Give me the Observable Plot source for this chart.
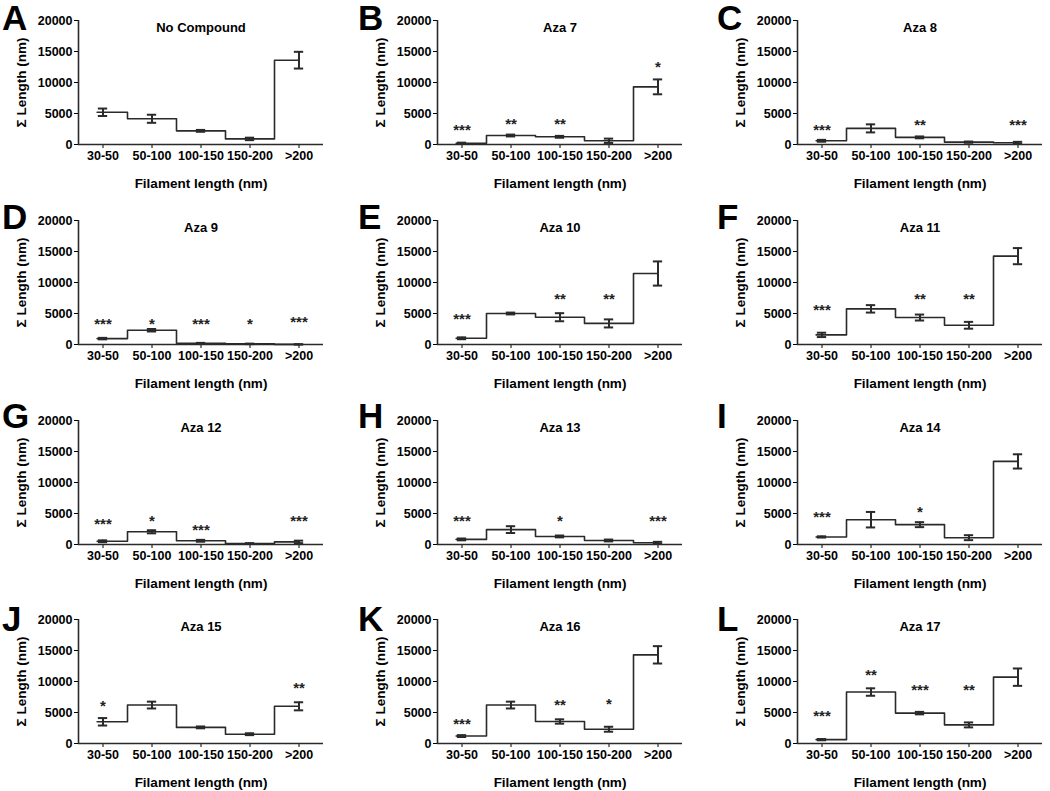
<!DOCTYPE html>
<html><head><meta charset="utf-8">
<script src="https://cdn.jsdelivr.net/npm/d3@7"></script>
<script src="https://cdn.jsdelivr.net/npm/@observablehq/plot@0.6"></script>
<style>
body{margin:0;background:#fff;width:1050px;height:791px;overflow:hidden;position:relative;font-family:"Liberation Sans",Arial,sans-serif;}
.panel{position:absolute;}
.letter{position:absolute;font-weight:bold;font-size:35px;line-height:1;color:#000;font-family:"Liberation Sans",Arial,sans-serif;}
</style></head><body>
<script>
const categories = ["30-50", "50-100", "100-150", "150-200", ">200"];
const panelLetters = ["A","B","C","D","E","F","G","H","I","J","K","L"];
const panelTitles = ["No Compound","Aza 7","Aza 8","Aza 9","Aza 10","Aza 11","Aza 12","Aza 13","Aza 14","Aza 15","Aza 16","Aza 17"];
const means = [
  [5200, 4150, 2200, 900, 13600],
  [200, 1450, 1240, 600, 9300],
  [600, 2600, 1150, 380, 280],
  [950, 2300, 200, 100, 20],
  [1000, 5000, 4400, 3400, 11450],
  [1550, 5750, 4350, 3100, 14250],
  [520, 2050, 600, 160, 420],
  [820, 2400, 1300, 650, 280],
  [1220, 4000, 3200, 1100, 13400],
  [3500, 6200, 2600, 1500, 6000],
  [1200, 6200, 3550, 2300, 14300],
  [620, 8300, 4900, 3000, 10700]
];
const errors = [
  [600, 650, 150, 200, 1350],
  [100, 150, 150, 350, 1200],
  [150, 650, 150, 100, 150],
  [120, 200, 60, 40, 20],
  [150, 150, 650, 650, 1950],
  [350, 600, 480, 550, 1300],
  [150, 250, 150, 60, 200],
  [150, 550, 150, 150, 150],
  [100, 1250, 400, 400, 1150],
  [600, 550, 150, 150, 650],
  [150, 550, 350, 400, 1400],
  [100, 600, 200, 400, 1400]
];
const sigLabels = [
  ["", "", "", "", ""],
  ["***", "**", "**", "", "*"],
  ["***", "", "**", "", "***"],
  ["***", "*", "***", "*", "***"],
  ["***", "", "**", "**", ""],
  ["***", "", "**", "**", ""],
  ["***", "*", "***", "", "***"],
  ["***", "", "*", "", "***"],
  ["***", "", "*", "", ""],
  ["*", "", "", "", "**"],
  ["***", "", "**", "*", ""],
  ["***", "**", "***", "**", ""]
];
const sigHeights = [
  [null, null, null, null, null],
  [3000, 4000, 4000, null, 13100],
  [3000, null, 3700, null, 3700],
  [3900, 4000, 4000, 4000, 4200],
  [4700, null, 7900, 7900, null],
  [6200, null, 7900, 7900, null],
  [4000, 4400, 3000, null, 4400],
  [4400, null, 4400, null, 4400],
  [5100, null, 5800, null, null],
  [6600, null, null, null, 9600],
  [3800, null, 6800, 7000, null],
  [5000, 11700, 9250, 9250, null]
];
const yTicks = [0, 5000, 10000, 15000, 20000];
const xLabel = "Filament length (nm)";
const yLabel = "Σ Length (nm)";

const ink = "#2a2a2a";
const font = "'Liberation Sans', Arial, sans-serif";
const colLeft = [0, 350, 700];
const colMargin = [78, 87, 97];
const rowTop = [0, 200, 400, 599];
const letterLeft = [2, 358, 717];
const letterTop = [0, 199, 398, 601];

panelLetters.forEach((letter, p) => {
  const col = p % 3, row = Math.floor(p / 3);
  const rows = categories.map((c, i) => ({
    i, cat: c, v: means[p][i], e: errors[p][i], sig: sigLabels[p][i], sy: sigHeights[p][i]
  }));
  const stepPts = [{x: -0.12, y: rows[0].v}, ...rows.map(d => ({x: d.i, y: d.v}))];
  const chart = Plot.plot({
    width: 350, height: 196,
    marginLeft: colMargin[col], marginRight: 350 - colMargin[col] - 245,
    marginTop: 20, marginBottom: 52,
    style: {fontFamily: font, fontSize: "12.5px", fontWeight: "bold", color: "#000", background: "transparent", overflow: "visible"},
    x: {domain: [-0.5, 4.5], ticks: [0, 1, 2, 3, 4], tickFormat: i => categories[i], label: null, tickSize: 4, tickPadding: 3},
    y: {domain: [0, 20000], ticks: yTicks, tickFormat: d3.format("d"), label: null, tickSize: 4, tickPadding: 2},
    marks: [
      Plot.ruleY([0], {stroke: ink, strokeWidth: 1.6}),
      Plot.ruleX([-0.5], {stroke: ink, strokeWidth: 1.6}),
      Plot.line(stepPts, {x: "x", y: "y", curve: "step", stroke: ink, strokeWidth: 1.6}),
      Plot.ruleX(rows, {x: "i", y1: d => d.v - d.e, y2: d => d.v + d.e, stroke: ink, strokeWidth: 2}),
      Plot.ruleY(rows, {y: d => d.v + d.e, x1: d => d.i - 0.095, x2: d => d.i + 0.095, stroke: ink, strokeWidth: 2}),
      Plot.ruleY(rows, {y: d => d.v - d.e, x1: d => d.i - 0.095, x2: d => d.i + 0.095, stroke: ink, strokeWidth: 2}),
      Plot.text(rows.filter(d => d.sig), {x: "i", y: "sy", text: "sig", fontSize: 15, fontWeight: "bold", dy: 4, fill: "#222"}),
      Plot.text([panelTitles[p]], {text: d => d, frameAnchor: "top", lineAnchor: "middle", textAnchor: "middle", dy: 7, fontSize: 13, fontWeight: "bold", fill: "#000"}),
      Plot.text([xLabel], {text: d => d, frameAnchor: "bottom", lineAnchor: "middle", textAnchor: "middle", dy: 39, fontSize: 13.5, fontWeight: "bold", fill: "#000"}),
      Plot.text([yLabel], {text: d => d, frameAnchor: "left", lineAnchor: "middle", textAnchor: "middle", dx: -57, rotate: -90, fontSize: 13.5, fontWeight: "bold", fill: "#000"})
    ]
  });
  chart.classList.add("panel");
  chart.style.left = colLeft[col] + "px";
  chart.style.top = rowTop[row] + "px";
  document.body.appendChild(chart);
  const div = document.createElement("div");
  div.className = "letter";
  div.textContent = letter;
  div.style.left = letterLeft[col] + "px";
  div.style.top = letterTop[row] + "px";
  document.body.appendChild(div);
});
</script>
</body></html>
